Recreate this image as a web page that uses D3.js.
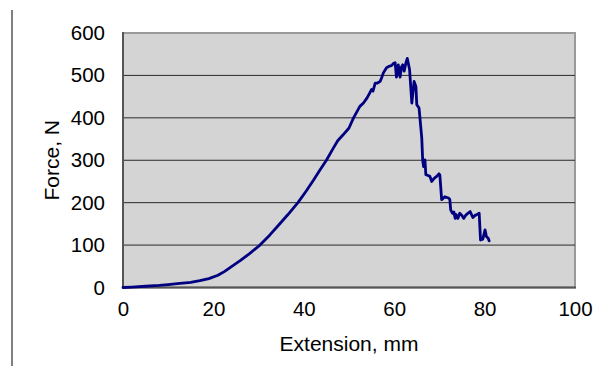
<!DOCTYPE html>
<html>
<head>
<meta charset="utf-8">
<script src="https://cdn.jsdelivr.net/npm/d3@7"></script>
<style>
  html, body { margin: 0; padding: 0; background: #fff; }
  svg { display: block; }
  text { font-family: "Liberation Sans", Arial, sans-serif; fill: #000; }
</style>
</head>
<body>
<svg id="chart" width="603" height="374"></svg>
<script>
// ---- data ----
const extension = [0,2,5,8,10,12,15,17,19,21,22.5,24,26,28,30.3,32.5,34.5,36.5,38.7,40.5,42.2,43.5,45,46.5,47.5,48.7,50,51,52.4,53.2,54.0,54.6,55.0,55.3,55.8,56.3,56.9,57.2,57.6,58.3,59.0,59.4,59.8,60.2,60.5,60.9,61.3,61.6,61.9,62.2,62.6,62.9,63.4,63.9,64.4,64.8,65.0,65.5,66.1,66.3,66.5,66.8,67.0,67.5,67.9,68.3,68.9,69.4,69.9,70.1,70.5,71.2,72.0,72.3,72.5,72.9,73.2,73.5,73.7,74.1,74.5,74.9,75.4,75.8,76.3,76.8,77.4,77.9,78.3,78.8,79.1,79.6,80.1,80.4,80.8,81.0];
const force     = [0,1,3,5,7,9,12,16,21,29,38,49,64,80,100,124,148,172,200,227,254,276,300,328,346,360,376,400,427,435,447,459,467,463,482,482,486,494,506,518,522,523,528,530,496,525,496,520,525,510,530,540,514,435,486,474,431,423,352,300,285,301,266,264,262,250,258,262,268,265,207,214,211,208,183,175,178,163,172,163,175,171,163,170,175,179,165,170,172,175,112,114,136,120,116,110];
const xTicks = [0,20,40,60,80,100];
const yTicks = [0,100,200,300,400,500,600];
const xLabel = "Extension, mm";
const yLabel = "Force, N";

// ---- layout ----
const svg = d3.select("#chart");
const L = 123, R = 575, T = 33, B = 287.5;
const x = d3.scaleLinear().domain([0,100]).range([L, R]);
const y = d3.scaleLinear().domain([0,600]).range([B, T]);

// outer left rule
svg.append("line").attr("x1",12).attr("x2",12).attr("y1",10).attr("y2",366)
  .attr("stroke","#000").attr("stroke-width",1);

// plot background
svg.append("rect").attr("x",L).attr("y",T).attr("width",R-L).attr("height",B-T)
  .attr("fill","#d4d4d4").attr("stroke","#9a9a9a").attr("stroke-width",2);

// gridlines
svg.append("g").selectAll("line").data(yTicks.filter(d => d>0 && d<600)).join("line")
  .attr("x1",L).attr("x2",R).attr("y1",d=>y(d)).attr("y2",d=>y(d))
  .attr("stroke","#2a2a2a").attr("stroke-width",1);

// left & bottom axis lines
svg.append("line").attr("x1",L).attr("x2",L).attr("y1",T-1).attr("y2",B)
  .attr("stroke","#555").attr("stroke-width",2);
svg.append("line").attr("x1",L).attr("x2",R+1).attr("y1",B).attr("y2",B)
  .attr("stroke","#555").attr("stroke-width",2);

// axes (labels only)
const yAxis = d3.axisLeft(y).tickValues(yTicks).tickSize(0).tickPadding(18).tickFormat(d3.format("d"));
const gy = svg.append("g").attr("transform",`translate(${L},0)`).call(yAxis);
gy.select(".domain").remove();
gy.selectAll("text").attr("font-size",20.5).style("font-family","'Liberation Sans', Arial, sans-serif");

const xAxis = d3.axisBottom(x).tickValues(xTicks).tickSize(0).tickPadding(14).tickFormat(d3.format("d"));
const gx = svg.append("g").attr("transform",`translate(0,${B})`).call(xAxis);
gx.select(".domain").remove();
gx.selectAll("text").attr("font-size",20.5).style("font-family","'Liberation Sans', Arial, sans-serif");

// data line
const pts = extension.map((e,i)=>[e, force[i]]);
svg.append("path").datum(pts)
  .attr("d", d3.line().x(d=>x(d[0])).y(d=>y(d[1])))
  .attr("fill","none").attr("stroke","#000080").attr("stroke-width",2.8)
  .attr("stroke-linejoin","round").attr("stroke-linecap","round");

// titles
svg.append("text").attr("x",(L+R)/2).attr("y",350.5).attr("text-anchor","middle")
  .attr("font-size",21).text(xLabel);
svg.append("text").attr("transform",`translate(59,${(T+B)/2}) rotate(-90)`)
  .attr("text-anchor","middle").attr("font-size",21).text(yLabel);
</script>
</body>
</html>
